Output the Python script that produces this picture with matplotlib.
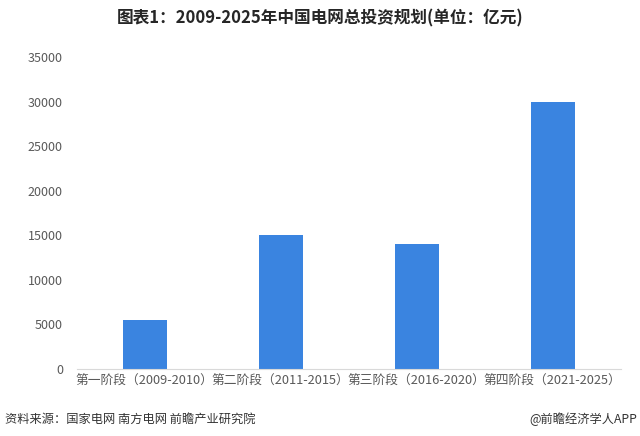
import matplotlib
matplotlib.use("Agg")
import matplotlib.pyplot as plt

plt.rcParams['font.family'] = ['Noto Sans CJK SC', 'DejaVu Sans']

# data
stages = ["第一阶段（2009-2010）", "第二阶段（2011-2015）",
          "第三阶段（2016-2020）", "第四阶段（2021-2025）"]
invest = [5500, 15000, 14000, 30000]
yticks = [0, 5000, 10000, 15000, 20000, 25000, 30000, 35000]

fig = plt.figure(figsize=(6.4, 4.36), dpi=100)
ax = fig.add_axes([0.12, 0.1537, 0.85, 0.7156])

x = range(len(stages))
ax.bar(x, invest, width=0.32, color='#3a84e0')

ax.set_xlim(-0.5, len(stages) - 0.5)
ax.set_ylim(0, 35000)
ax.set_yticks(yticks)
ax.set_yticklabels([str(v) for v in yticks])
ax.set_xticks(list(x))
ax.set_xticklabels(stages)
ax.tick_params(axis='both', length=0, colors='#595959')
ax.tick_params(axis='y', pad=10, labelsize=9)
ax.tick_params(axis='x', pad=4, labelsize=9.2)

for s in ['top', 'right', 'left']:
    ax.spines[s].set_visible(False)
ax.spines['bottom'].set_color('#d9d9d9')

fig.text(0.5, 0.958, "图表1：2009-2025年中国电网总投资规划(单位：亿元)",
         ha='center', va='center', fontsize=12, fontweight='bold', color='#262626')
fig.text(0.008, 0.038, "资料来源：国家电网 南方电网 前瞻产业研究院",
         ha='left', va='center', fontsize=8.8, color='#333333')
fig.text(0.995, 0.038, "@前瞻经济学人APP",
         ha='right', va='center', fontsize=8.8, color='#333333')

fig.savefig("out.png", dpi=100)
